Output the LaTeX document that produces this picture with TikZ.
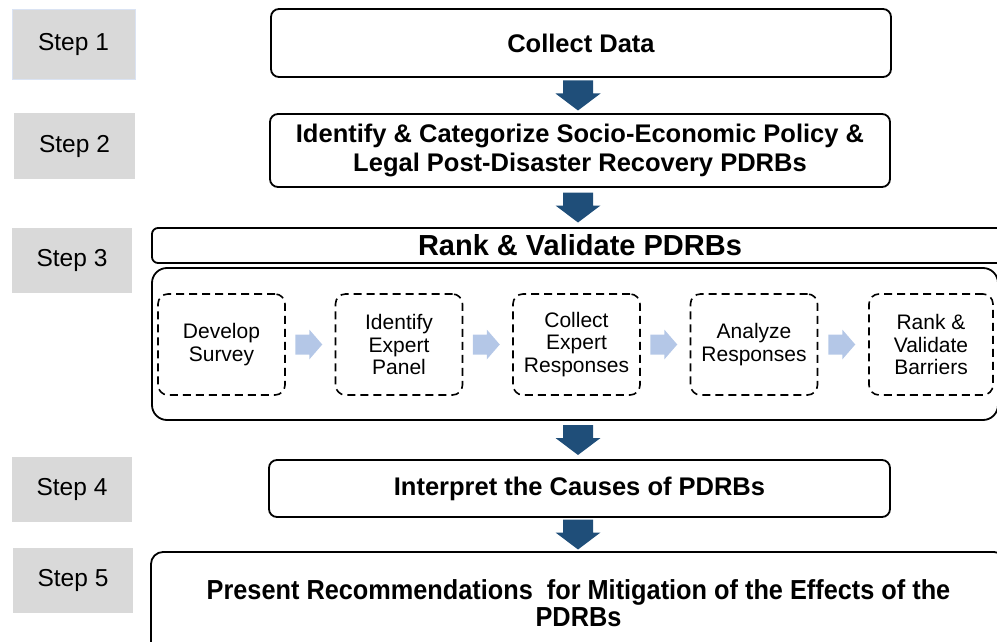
\documentclass[tikz,border=0pt]{standalone}
\usepackage{fontspec}
\setmainfont{Liberation Sans}
\newfontfamily\narrowfont[FakeStretch=0.92]{Liberation Sans}
\usetikzlibrary{calc}
\definecolor{stepgray}{HTML}{D9D9D9}
\definecolor{darkblue}{HTML}{1F4E79}
\definecolor{lightblue}{HTML}{B4C7E7}
\definecolor{selblue}{HTML}{DAE3F3}
\begin{document}
\begin{tikzpicture}[x=1pt,y=-1pt,
  steplabel/.style={fill=stepgray, draw=none, inner sep=0pt, font=\fontsize{24.5}{28}\selectfont},
  mainbox/.style={draw=black, line width=1.8pt, rounded corners=8pt, inner sep=0pt, align=center, font=\fontsize{25.5}{28.5}\selectfont\bfseries},
  dashbox/.style={draw=black, line width=1.6pt, dash pattern=on 8pt off 5pt, rounded corners=10pt, minimum width=127pt, minimum height=101pt, inner sep=0pt, align=center, font=\fontsize{21}{22.5}\selectfont},
  darrow/.style={fill=darkblue},
  larrow/.style={fill=lightblue}]
\useasboundingbox (0,0) rectangle (997,642);

% step labels
\node[steplabel, draw=selblue, line width=0.8pt, minimum width=123pt, minimum height=70pt] (s1) at (73.5,44) {Step 1};
\node[steplabel, minimum width=121pt, minimum height=66pt] (s2) at (74.5,146) {Step 2};
\node[steplabel, minimum width=120pt, minimum height=65pt] (s3) at (72,260.5) {Step 3};
\node[steplabel, minimum width=120pt, minimum height=65pt] (s4) at (72,489.5) {Step 4};
\node[steplabel, minimum width=120pt, minimum height=65pt] (s5) at (73,580.5) {Step 5};

% main boxes
\node[mainbox, minimum width=620pt, minimum height=68pt] (collect) at (581,43) {Collect Data};
\node[mainbox, minimum width=620pt, minimum height=73pt] (identify) at (580,150.5) {Identify \& Categorize Socio-Economic Policy \&\\Legal Post-Disaster Recovery PDRBs};
\node[mainbox, rounded corners=6pt, minimum width=856pt, minimum height=35pt, font=\fontsize{29}{32}\selectfont\bfseries] (header) at (580,245.5) {Rank \& Validate PDRBs};
\node[draw=black, line width=1.8pt, rounded corners=15pt, minimum width=846pt, minimum height=152pt, inner sep=0pt] (body) at (575,344) {};
\node[mainbox, minimum width=621pt, minimum height=57pt] (interpret) at (579.5,488.5) {Interpret the Causes of PDRBs};
\node[mainbox, rounded corners=12pt, minimum width=855pt, minimum height=102pt, font=\narrowfont\fontsize{27.5}{27.5}\selectfont\bfseries] (present) at (578.5,603) {Present Recommendations~ for Mitigation of the Effects of the\\PDRBs};

% dashed sub-steps
\node[dashbox] (d1) at (221.5,344.5) {Develop\\Survey};
\node[dashbox] (d2) at (399,344.5) {Identify\\Expert\\Panel};
\node[dashbox] (d3) at (576.5,344.5) {Collect\\Expert\\Responses};
\node[dashbox] (d4) at (754,344.5) {Analyze\\Responses};
\node[dashbox, minimum width=124pt] (d5) at (931,344.5) {Rank \&\\Validate\\Barriers};

% light blue arrows between sub-steps
\foreach \p/\q in {d1/d2, d2/d3, d3/d4, d4/d5} {
  \coordinate (lc) at ($(\p.east)!0.5!(\q.west)+(-1.5,0)$);
  \fill[larrow] ($(lc)+(-13.5,-10)$) -- ($(lc)+(0.5,-10)$) -- ($(lc)+(0.5,-15)$) -- ($(lc)+(13.5,0)$) -- ($(lc)+(0.5,15)$) -- ($(lc)+(0.5,10)$) -- ($(lc)+(-13.5,10)$) -- cycle;
}

% dark blue arrows between main steps
\coordinate (axis) at (578,0);
\foreach \p/\q in {collect/identify, identify/header, body/interpret, interpret/present} {
  \coordinate (mc) at ($(\p.south)!0.5!(\q.north)$);
  \coordinate (dc) at (axis |- mc);
  \fill[darrow] ($(dc)+(-15,-15)$) -- ($(dc)+(15,-15)$) -- ($(dc)+(15,-2)$) -- ($(dc)+(22.5,-2)$) -- ($(dc)+(0,15)$) -- ($(dc)+(-22.5,-2)$) -- ($(dc)+(-15,-2)$) -- cycle;
}
\end{tikzpicture}
\end{document}
